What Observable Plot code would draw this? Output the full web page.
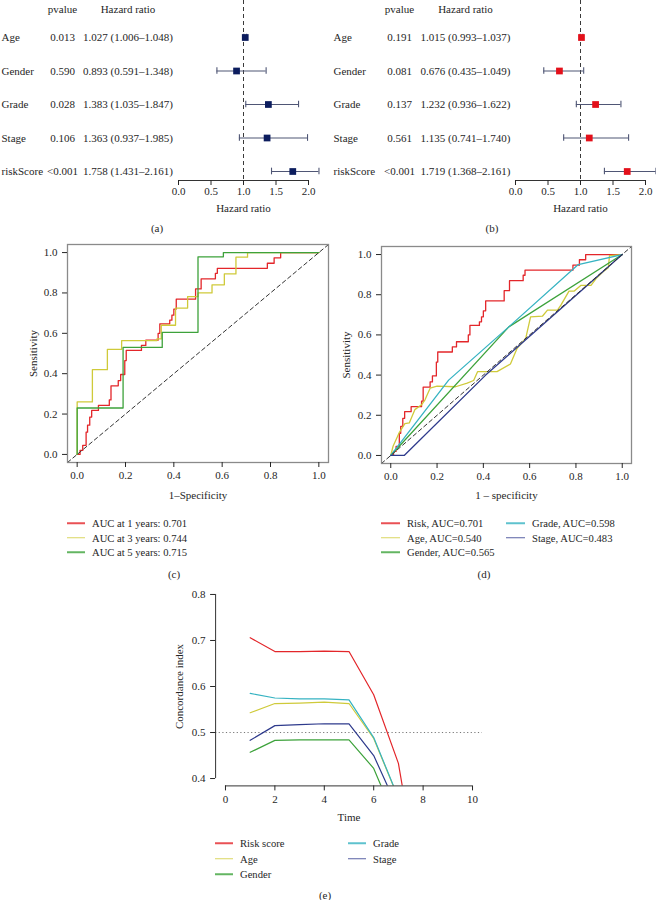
<!DOCTYPE html>
<html><head><meta charset="utf-8">
<script src="https://cdn.jsdelivr.net/npm/d3@7"></script>
<script src="https://cdn.jsdelivr.net/npm/@observablehq/plot@0.6"></script>
<style>
body{margin:0;background:#fff;}
#fig{position:relative;width:656px;height:900px;font-family:"Liberation Serif","Times New Roman",serif;color:#262626;overflow:hidden;}
.lbl{position:absolute;transform:translate(-50%,-50%);font-size:11px;white-space:nowrap;}
.leg{position:absolute;font-size:10.6px;white-space:nowrap;transform:translateY(-50%);}
.sw{position:absolute;height:1.5px;transform:translateY(-50%);opacity:0.8;}
</style></head><body><div id="fig"></div><script>
// ---------- data ----------
const covariates = ["Age", "Gender", "Grade", "Stage", "riskScore"];
const uniP  = ["0.013", "0.590", "0.028", "0.106", "<0.001"];
const uniHR = [1.027, 0.893, 1.383, 1.363, 1.758];
const uniLo = [1.006, 0.591, 1.035, 0.937, 1.431];
const uniHi = [1.048, 1.348, 1.847, 1.985, 2.161];
const multiP  = ["0.191", "0.081", "0.137", "0.561", "<0.001"];
const multiHR = [1.015, 0.676, 1.232, 1.135, 1.719];
const multiLo = [0.993, 0.435, 0.936, 0.741, 1.368];
const multiHi = [1.037, 1.049, 1.622, 1.740, 2.161];
const hrTicks = [0, 0.5, 1, 1.5, 2];

const rocDomain = [-0.04, 1.04];
const rocTicks = [0, 0.2, 0.4, 0.6, 0.8, 1];
// ROC vertices [1-specificity, sensitivity]
const rocRisk1yr = [[0,0],[0.012,0],[0.012,0.02],[0.023,0.02],[0.023,0.045],[0.037,0.045],[0.037,0.11],[0.043,0.11],[0.043,0.145],[0.052,0.145],[0.052,0.185],[0.06,0.185],[0.06,0.218],[0.088,0.218],[0.088,0.243],[0.133,0.243],[0.133,0.27],[0.14,0.27],[0.14,0.34],[0.17,0.34],[0.17,0.366],[0.18,0.366],[0.18,0.396],[0.197,0.396],[0.197,0.465],[0.203,0.465],[0.203,0.515],[0.266,0.515],[0.266,0.54],[0.284,0.54],[0.284,0.566],[0.335,0.566],[0.335,0.6],[0.342,0.6],[0.342,0.647],[0.383,0.647],[0.383,0.665],[0.392,0.665],[0.392,0.69],[0.4,0.69],[0.4,0.72],[0.41,0.72],[0.41,0.769],[0.49,0.769],[0.49,0.82],[0.513,0.82],[0.513,0.87],[0.572,0.87],[0.572,0.897],[0.58,0.897],[0.58,0.922],[0.787,0.922],[0.787,0.947],[0.815,0.947],[0.815,0.974],[0.842,0.974],[0.842,1],[1,1]];
const roc3yr = [[0,0],[0,0.26],[0.063,0.26],[0.063,0.42],[0.125,0.42],[0.125,0.52],[0.184,0.52],[0.184,0.564],[0.33,0.564],[0.33,0.572],[0.348,0.572],[0.348,0.64],[0.407,0.64],[0.407,0.725],[0.457,0.725],[0.457,0.782],[0.5,0.782],[0.5,0.8],[0.558,0.8],[0.558,0.84],[0.609,0.84],[0.609,0.894],[0.657,0.894],[0.657,0.977],[0.705,0.977],[0.705,1],[1,1]];
const roc5yr = [[0,0],[0,0.23],[0.19,0.23],[0.19,0.53],[0.352,0.53],[0.352,0.605],[0.5,0.605],[0.5,0.979],[0.605,0.979],[0.605,1],[1,1]];
const rocAge = [[0,0],[0.01,0.046],[0.036,0.112],[0.061,0.158],[0.08,0.162],[0.104,0.228],[0.133,0.252],[0.148,0.277],[0.17,0.335],[0.2,0.345],[0.28,0.342],[0.33,0.36],[0.358,0.373],[0.375,0.417],[0.459,0.417],[0.517,0.455],[0.546,0.533],[0.583,0.583],[0.604,0.69],[0.655,0.693],[0.677,0.723],[0.72,0.723],[0.735,0.748],[0.77,0.818],[0.793,0.818],[0.822,0.847],[0.865,0.847],[0.887,0.88],[0.923,0.92],[0.94,0.934],[0.945,0.995],[1,1]];
const rocGender = [[0,0],[0.51,0.64],[1,1]];
const rocGrade = [[0,0],[0.25,0.375],[0.51,0.64],[0.81,0.95],[1,1]];
const rocStage = [[0,0],[0.058,0],[0.41,0.4],[1,1]];

const timeLabels = ["1-year", "3-year", "5-year"];
const aucTime = ["0.701", "0.744", "0.715"];
const varLabels = ["Risk", "Age", "Gender", "Grade", "Stage"];
const aucVar = ["0.701", "0.540", "0.565", "0.598", "0.483"];

const cSeries = ["Risk score", "Age", "Gender", "Grade", "Stage"];
const cTimes = [1, 2, 3, 4, 5, 6, 7, 8];
const cRisk   = [0.706, 0.676, 0.676, 0.677, 0.676, 0.582, 0.433, 0.12];
const cAge    = [0.543, 0.563, 0.564, 0.566, 0.563, 0.487, 0.357, 0.25];
const cGender = [0.457, 0.483, 0.484, 0.484, 0.484, 0.422, 0.295, 0.22];
const cGrade  = [0.585, 0.575, 0.573, 0.573, 0.571, 0.489, 0.358, 0.25];
const cStage  = [0.483, 0.515, 0.517, 0.519, 0.519, 0.45, 0.332, 0.22];
const eXDomain = [-0.4, 10.4];
const eYDomain = [0.384, 0.816];
const eXTicks = [0, 2, 4, 6, 8, 10];
const eYTicks = [0.4, 0.5, 0.6, 0.7, 0.8];

// ---------- styling ----------
const FONT = '"Liberation Serif","Times New Roman",serif';
const baseStyle = {fontFamily: FONT, fontSize: "11px", background: "transparent", overflow: "visible", color: "#262626"};
const RED = "#e3262a", YEL = "#cfca3a", GRN = "#3da23b", CYA = "#36b3c2", NAV = "#2e3a8c";
const fig = document.getElementById("fig");
function place(node, left, top) {
  node.style.position = "absolute"; node.style.left = left + "px"; node.style.top = top + "px";
  fig.appendChild(node);
}
function label(text, x, y) {
  const d = document.createElement("div"); d.className = "lbl"; d.textContent = text;
  d.style.left = x + "px"; d.style.top = y + "px"; fig.appendChild(d);
}
function legendItem(text, color, x, y, w) {
  const s = document.createElement("div"); s.className = "sw";
  s.style.left = x + "px"; s.style.top = y + "px"; s.style.width = w + "px"; s.style.background = color;
  fig.appendChild(s);
  const t = document.createElement("div"); t.className = "leg"; t.textContent = text;
  t.style.left = (x + w + 7) + "px"; t.style.top = y + "px"; fig.appendChild(t);
}

// ---------- forest plots ----------
function forestPlot(pv, hr, lo, hi, fill, L) {
  const rows = covariates.map((name, i) => ({i, name, p: pv[i], hr: hr[i], lo: lo[i], hi: hi[i],
    label: `${hr[i].toFixed(3)} (${lo[i].toFixed(3)}–${hi[i].toFixed(3)})`}));
  const bar = "#4f5675";
  return Plot.plot({
    width: 328, height: 215, marginLeft: L.mL, marginRight: L.mR, marginTop: 0, marginBottom: 35,
    style: baseStyle,
    x: {domain: [0, 2]},
    y: {domain: [0, covariates.length - 1], range: [37, 171], axis: null},
    marks: [
      Plot.ruleX([1], {stroke: "#3a3a3a", strokeDasharray: "4,3", strokeWidth: 1}),
      Plot.ruleY(rows, {y: "i", x1: "lo", x2: "hi", stroke: bar, strokeWidth: 1.1}),
      Plot.ruleX(rows, {x: "lo", y1: d => d.i - 0.1, y2: d => d.i + 0.1, stroke: bar, strokeWidth: 1.1}),
      Plot.ruleX(rows, {x: "hi", y1: d => d.i - 0.1, y2: d => d.i + 0.1, stroke: bar, strokeWidth: 1.1}),
      Plot.dot(rows, {x: "hr", y: "i", symbol: "square", r: 3.8, fill}),
      Plot.text(rows, {y: "i", text: "name", frameAnchor: "left", dx: L.nameX - L.mL, textAnchor: "start", lineAnchor: "middle"}),
      Plot.text(rows, {y: "i", text: "p", frameAnchor: "left", dx: L.pX - L.mL, textAnchor: "middle", lineAnchor: "middle"}),
      Plot.text(rows, {y: "i", text: "label", frameAnchor: "left", dx: L.hrX - L.mL, textAnchor: "middle", lineAnchor: "middle"}),
      Plot.text(["pvalue"], {frameAnchor: "top-left", dx: L.pX - L.mL, dy: 9, textAnchor: "middle", lineAnchor: "middle"}),
      Plot.text(["Hazard ratio"], {frameAnchor: "top-left", dx: L.hrX - L.mL, dy: 9, textAnchor: "middle", lineAnchor: "middle"}),
      Plot.frame({anchor: "bottom", stroke: "#333"}),
      Plot.axisX({ticks: hrTicks, tickFormat: ".1f", tickSize: 5, tickPadding: 2, label: null}),
      Plot.text(["Hazard ratio"], {frameAnchor: "bottom", dy: 28, textAnchor: "middle", lineAnchor: "middle"})
    ]
  });
}
place(forestPlot(uniP, uniHR, uniLo, uniHi, "#0c1d5e", {mL: 178, mR: 20, nameX: 1, pX: 62, hrX: 127.5}), 0, 0);
place(forestPlot(multiP, multiHR, multiLo, multiHi, "#e3101a", {mL: 187, mR: 11, nameX: 5, pX: 71, hrX: 137}), 328, 0);
label("(a)", 157, 228);
label("(b)", 492, 228);

// ---------- ROC plots ----------
function rocPlot(o) {
  return Plot.plot({
    width: o.width, height: 275, marginLeft: o.mL, marginRight: o.mR, marginTop: o.mT, marginBottom: o.mB,
    style: baseStyle,
    x: {domain: rocDomain}, y: {domain: rocDomain},
    marks: [
      ...o.curves.map(c => Plot.line(c.pts, {x: d => d[0], y: d => d[1], stroke: c.color, strokeWidth: 1.3})),
      Plot.line(rocDomain, {x: d => d, y: d => d, stroke: "#333", strokeDasharray: "4,3", strokeWidth: 1}),
      Plot.frame({stroke: "#8a8a8a", strokeWidth: 1.3}),
      Plot.axisX({ticks: rocTicks, tickFormat: ".1f", tickSize: 5, tickPadding: 4, label: null}),
      Plot.axisY({ticks: rocTicks, tickFormat: ".1f", tickSize: 5, tickPadding: 5, label: null}),
      Plot.text([o.xLabel], {frameAnchor: "bottom", dy: o.xdy, textAnchor: "middle", lineAnchor: "middle"}),
      Plot.text(["Sensitivity"], {frameAnchor: "left", dx: o.ydx, rotate: -90, textAnchor: "middle", lineAnchor: "middle"})
    ]
  });
}
place(rocPlot({width: 330, mL: 67, mR: 2, mT: 14, mB: 43, xLabel: "1–Specificity", xdy: 33, ydx: -34,
  curves: [{pts: rocRisk1yr, color: RED}, {pts: roc3yr, color: YEL}, {pts: roc5yr, color: GRN}]}), 0, 230);
place(rocPlot({width: 328, mL: 53, mR: 25, mT: 16, mB: 42, xLabel: "1 – specificity", xdy: 32, ydx: -35,
  curves: [{pts: rocRisk1yr, color: RED}, {pts: rocAge, color: YEL}, {pts: rocGender, color: GRN},
           {pts: rocGrade, color: CYA}, {pts: rocStage, color: NAV}]}), 328, 230);

const legRows = [523, 537.5, 552];
const timeColors = [RED, YEL, GRN];
timeLabels.forEach((t, i) => legendItem(`AUC at ${t.split("-")[0]} years: ${aucTime[i]}`, timeColors[i], 67, legRows[i], 18));
const varColors = [RED, YEL, GRN, CYA, NAV];
varLabels.forEach((v, i) => {
  const col = i < 3 ? 0 : 1, row = i < 3 ? i : i - 3;
  legendItem(`${v}, AUC=${aucVar[i]}`, varColors[i], col ? 506 : 381, legRows[row], 19);
});
label("(c)", 174, 574);
label("(d)", 484, 574);

// ---------- C-index plot ----------
const cArrays = [cRisk, cAge, cGender, cGrade, cStage];
const cColors = [RED, YEL, GRN, CYA, NAV];
const cLong = cSeries.flatMap((s, k) => cTimes.map((t, j) => ({s, t, v: cArrays[k][j]})));
place(Plot.plot({
  width: 360, height: 260, marginLeft: 75.1, marginRight: 18.1, marginTop: 16.6, marginBottom: 44.6,
  style: baseStyle,
  x: {domain: eXDomain}, y: {domain: eYDomain},
  color: {domain: cSeries, range: cColors},
  marks: [
    Plot.ruleY([0.5], {stroke: "#777", strokeDasharray: "1.2,2.4", strokeWidth: 1}),
    Plot.line(cLong, {x: "t", y: "v", z: "s", stroke: "s", strokeWidth: 1.2, clip: true}),
    Plot.ruleX([eXDomain[0]], {y1: eYTicks[0], y2: eYTicks[eYTicks.length - 1], stroke: "#333"}),
    Plot.ruleY([eYDomain[0]], {x1: eXTicks[0], x2: eXTicks[eXTicks.length - 1], stroke: "#333"}),
    Plot.axisY({ticks: eYTicks, tickFormat: ".1f", tickSize: 5, tickPadding: 5, label: null}),
    Plot.axisX({ticks: eXTicks, tickFormat: "d", tickSize: 5, tickPadding: 4, label: null}),
    Plot.text(["Time"], {frameAnchor: "bottom", dy: 31.6, textAnchor: "middle", lineAnchor: "middle"}),
    Plot.text(["Concordance index"], {frameAnchor: "left", dx: -36, rotate: -90, textAnchor: "middle", lineAnchor: "middle"})
  ]
}), 140, 570);
const eRows = [843, 858.5, 874];
cSeries.forEach((s, i) => {
  const col = i < 3 ? 0 : 1, row = i < 3 ? i : i - 3;
  legendItem(s, cColors[i], col ? 348 : 215, eRows[row], 18);
});
label("(e)", 325, 895);
</script></body></html>
